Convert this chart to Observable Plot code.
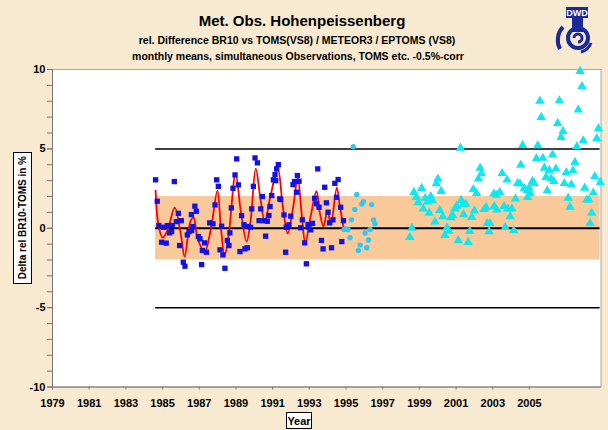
<!DOCTYPE html>
<html><head><meta charset="utf-8">
<script src="https://cdn.jsdelivr.net/npm/d3@7"></script>
<script src="https://cdn.jsdelivr.net/npm/@observablehq/plot@0.6"></script>
<style>
body{margin:0;background:#f7ead0;}
#wrap{position:relative;width:608px;height:430px;background:#f7ead0;font-family:"Liberation Sans",Arial,sans-serif;overflow:hidden}
#chart{position:absolute;left:0;top:0}
#chart svg text{font-weight:bold}
.t{position:absolute;text-align:center;font-weight:bold;color:#000;white-space:nowrap;transform:translateX(-50%)}
.box{position:absolute;background:#fff;border:1px solid #000;font-weight:bold;font-size:10px;color:#000;display:flex;align-items:center;justify-content:center;box-sizing:border-box;white-space:nowrap}
</style></head>
<body>
<div id="wrap">
  <div id="chart"></div>
  <div class="t" style="left:302px;top:12px;font-size:15px">Met. Obs. Hohenpeissenberg</div>
  <div class="t" style="left:297px;top:34px;font-size:10.5px">rel. Difference BR10 vs TOMS(VS8) / METEOR3 / EPTOMS (VS8)</div>
  <div class="t" style="left:298px;top:50px;font-size:10.5px">monthly means, simultaneous Observations, TOMS etc. -0.5%-corr</div>
  <div class="box" style="left:13px;top:152px;width:19px;height:132px"><span style="writing-mode:vertical-rl;transform:rotate(180deg);white-space:nowrap">Delta rel BR10-TOMS in %</span></div>
  <div class="box" style="left:286px;top:412px;width:26px;height:17px;font-size:11px">Year</div>
  <svg style="position:absolute;left:552px;top:5px" width="50" height="50" viewBox="0 0 50 50">
    <rect x="14" y="2" width="22" height="11" fill="#1a2a9a"/>
    <text x="25" y="10.8" text-anchor="middle" font-size="9" font-weight="bold" fill="#fff" font-family="Liberation Sans, Arial">DWD</text>
    <rect x="20" y="13" width="11" height="14" fill="#1a2a9a"/>
    <circle cx="26" cy="33" r="10" fill="none" stroke="#1a2a9a" stroke-width="4"/>
    <path d="M26,33 m-4,0 a4,4 0 1,1 4,4" fill="none" stroke="#1a2a9a" stroke-width="3"/>
    <path d="M11,22 a19,19 0 0,0 -3,22" fill="none" stroke="#1a2a9a" stroke-width="4"/>
    <path d="M39,38 a15,15 0 0,1 -10,9" fill="none" stroke="#1a2a9a" stroke-width="3"/>
  </svg>
</div>
<script>
// BR10 vs TOMS (Nimbus 7) monthly values
const tomsYear = [1984.62,1984.71,1984.80,1984.95,1985.07,1985.20,1985.26,1985.38,1985.49,1985.53,1985.64,1985.75,1985.86,1985.93,1986.02,1986.13,1986.22,1986.35,1986.44,1986.57,1986.58,1986.65,1986.76,1986.84,1986.95,1987.04,1987.13,1987.17,1987.29,1987.39,1987.57,1987.75,1987.86,1987.95,1988.04,1988.13,1988.22,1988.29,1988.40,1988.53,1988.62,1988.67,1988.75,1988.84,1988.95,1989.04,1989.13,1989.22,1989.31,1989.44,1989.49,1989.62,1989.68,1989.80,1989.86,1989.95,1990.04,1990.17,1990.26,1990.35,1990.44,1990.53,1990.62,1990.71,1990.80,1990.86,1990.95,1991.04,1991.13,1991.17,1991.22,1991.31,1991.39,1991.44,1991.62,1991.71,1991.74,1991.81,1991.89,1991.99,1992.11,1992.20,1992.30,1992.35,1992.44,1992.53,1992.62,1992.75,1992.84,1992.93,1992.98,1993.08,1993.17,1993.29,1993.40,1993.46,1993.53,1993.66,1993.75,1993.84,1993.93,1994.02,1994.11,1994.21,1994.29,1994.39,1994.48,1994.57,1994.71,1994.77,1994.86];
const tomsDelta = [3.05,1.70,0.17,-0.88,0.06,-0.94,0.17,-0.29,-0.21,0.17,2.94,0.42,0.94,-1.09,0.48,-2.14,-2.39,-0.42,-0.21,0.86,-0.14,0.11,1.39,1.07,-0.52,-0.67,-2.29,-1.40,-0.92,-1.51,0.34,0.28,1.47,3.05,2.64,-1.36,0.13,-1.68,-2.52,-0.77,-1.09,-0.29,1.28,2.52,3.36,4.37,2.73,-1.47,0.80,0.23,-1.30,-1.23,0.11,0.06,1.22,2.64,4.43,4.12,0.48,1.22,2.00,0.48,-0.50,0.44,0.80,1.37,2.06,3.05,3.38,3.00,3.74,4.01,1.85,1.81,0.84,-1.51,0.06,0.11,0.21,0.76,2.75,2.94,2.27,3.32,2.96,0.03,0.53,-0.92,-2.24,0.23,0.06,-0.10,0.31,1.89,1.54,3.74,1.32,-0.77,-1.30,2.58,1.60,1.01,0.34,-1.23,0.53,2.83,1.95,3.07,1.32,-0.84,0.48];
// smoothed curve (red)
const smoothYear = [1984.62,1984.78,1985.00,1985.27,1985.66,1985.98,1986.20,1986.53,1986.69,1986.91,1987.29,1987.62,1987.99,1988.17,1988.38,1988.60,1988.98,1989.26,1989.58,1989.80,1990.08,1990.35,1990.57,1990.89,1991.28,1991.55,1991.82,1992.09,1992.37,1992.59,1992.78,1993.08,1993.39,1993.57,1993.77,1993.99,1994.17,1994.50,1994.66,1994.86];
const smoothDelta = [2.37,0.17,-0.59,-0.14,1.30,-0.27,-1.78,0.48,0.67,-0.65,-1.47,-0.14,2.37,0.17,-1.72,-0.46,3.44,1.11,-0.84,0.48,3.76,1.74,0.42,2.06,3.76,1.43,-0.33,1.11,3.13,0.80,-0.90,0.80,2.33,0.99,0.11,1.11,0.23,2.56,1.43,0.11];
// BR10 vs METEOR3
const meteorYear = [1994.89,1994.99,1995.11,1995.22,1995.30,1995.40,1995.48,1995.59,1995.67,1995.77,1995.86,1995.95,1996.04,1996.13,1996.22,1996.31,1996.40,1996.50,1996.58];
const meteorDelta = [-0.08,-0.04,-0.08,-0.60,0.53,5.14,1.18,2.13,-1.40,-1.06,1.52,1.68,-0.30,-1.23,-0.74,-0.08,1.49,0.53,0.28];
// BR10 vs EPTOMS
const eptomsYear = [1998.48,1998.59,1998.70,1998.84,1998.93,1999.12,1999.21,1999.32,1999.44,1999.53,1999.62,1999.71,1999.85,1999.93,2000.01,2000.19,2000.11,2000.28,2000.39,2000.50,2000.61,2000.71,2000.81,2000.93,2001.04,2001.12,2001.24,2001.28,2001.39,2001.41,2001.53,2001.66,2001.75,2001.86,2002.00,2002.12,2001.94,2002.22,2002.31,2002.38,2002.53,2002.64,2002.70,2002.84,2002.80,2003.06,2003.20,2003.38,2003.22,2003.08,2003.51,2003.62,2003.68,2003.78,2003.82,2003.95,2004.04,2004.14,2004.24,2004.35,2004.48,2004.53,2004.63,2004.72,2004.89,2004.90,2004.99,2005.04,2005.16,2005.26,2005.38,2005.45,2005.57,2005.64,2005.73,2005.81,2005.90,2005.97,2006.08,2006.17,2006.26,2006.33,2006.44,2006.54,2006.63,2006.72,2006.83,2006.90,2007.01,2007.11,2007.21,2007.28,2007.37,2007.48,2007.58,2007.66,2007.76,2007.86,2007.93,2008.01,2008.13,2008.24,2008.31,2008.39,2008.48,2008.56,2008.67,2008.76,2008.86];
const eptomsDelta = [-0.57,0.01,2.27,1.95,1.62,2.52,1.22,1.90,1.66,0.96,2.00,1.74,0.41,2.81,3.11,2.33,1.13,0.74,-0.44,0.03,-0.18,0.67,0.82,1.22,1.40,-0.77,5.06,1.76,1.49,0.86,1.52,-0.88,-0.19,0.69,1.10,2.20,2.45,3.11,3.80,3.44,1.19,1.32,0.31,0.31,-0.20,2.17,2.09,2.27,1.16,1.39,3.46,1.37,0.06,3.05,1.22,0.74,1.22,-0.14,1.85,2.83,2.80,3.99,5.23,2.50,2.37,1.95,2.54,2.20,2.96,2.83,4.39,5.21,8.02,6.99,4.42,3.80,3.21,2.37,3.65,3.11,4.63,2.96,3.74,6.62,8.04,5.73,6.11,2.83,3.51,1.91,1.34,2.75,3.63,4.16,5.14,7.46,9.89,8.94,5.52,2.54,1.79,1.79,0.31,0.96,2.23,3.26,5.65,6.28,2.90];
// axes and reference lines
const xTicks = [1979,1981,1983,1985,1987,1989,1991,1993,1995,1997,1999,2001,2003,2005];
const yTicks = [-10,-5,0,5,10];
const yMinor = [-10,-9,-8,-7,-6,-5,-4,-3,-2,-1,0,1,2,3,4,5,6,7,8,9,10];
const refLines = [5,0,-5];
const refWidths = [1.5,2,1.5];
const bandLimits = [-2,2];
const spanYears = [1984.62,2008.85];
const xDomain = [1979,2008.9];
const yDomain = [-10,10];

const toms = tomsYear.map((x,i)=>({x, y:tomsDelta[i]}));
const smooth = smoothYear.map((x,i)=>({x, y:smoothDelta[i]}));
const meteor = meteorYear.map((x,i)=>({x, y:meteorDelta[i]}));
const eptoms = eptomsYear.map((x,i)=>({x, y:eptomsDelta[i]}));
const refs = refLines.map((y,i)=>({y, w:refWidths[i]}));

const chart = Plot.plot({
  width: 608, height: 430,
  marginLeft: 52, marginRight: 7.5, marginTop: 69, marginBottom: 43.5,
  style: {fontFamily: "'Liberation Sans', Arial, sans-serif", fontSize: "11px", background: "transparent", color: "#000"},
  x: {domain: xDomain},
  y: {domain: yDomain},
  marks: [
    Plot.frame({fill: "#fff", stroke: "#a8a8a8"}),
    Plot.rect([{x1: spanYears[0], x2: spanYears[1], y1: bandLimits[0], y2: bandLimits[1]}], {x1:"x1", x2:"x2", y1:"y1", y2:"y2", fill: "#fac99a"}),
    Plot.ruleY(refs, {y: "y", x1: spanYears[0], x2: spanYears[1], stroke: "#000", strokeWidth: d => d.w}),
    Plot.line(smooth, {x:"x", y:"y", stroke:"#ff0000", strokeWidth: 1.8, curve: "catmull-rom"}),
    Plot.dot(toms, {x:"x", y:"y", symbol:"square", r:3, fill:"#1212e6", stroke:"none"}),
    Plot.dot(meteor, {x:"x", y:"y", symbol:"circle", r:2.7, fill:"#2fc8f2", stroke:"none"}),
    Plot.dot(eptoms, {x:"x", y:"y", symbol:"triangle", r:3.5, fill:"#12e6ee", stroke:"none"}),
    Plot.ruleX([xDomain[0]], {stroke:"#777"}),
    Plot.ruleY([yDomain[0]], {stroke:"#777"}),
    Plot.axisY({ticks: yMinor, tickSize: 5, tickFormat: () => "", label: null, stroke: "#777"}),
    Plot.axisY({ticks: yTicks, tickSize: 5, tickPadding: 2, tickFormat: d => String(d), label: null, stroke: "#777", fontSize: 11, fontWeight: "bold"}),
    Plot.axisX({ticks: xTicks, tickSize: 3, tickPadding: 9, tickFormat: d => String(d), label: null, stroke: "#777", fontSize: 11, fontWeight: "bold"})
  ]
});
document.getElementById("chart").appendChild(chart);
</script>
</body></html>
